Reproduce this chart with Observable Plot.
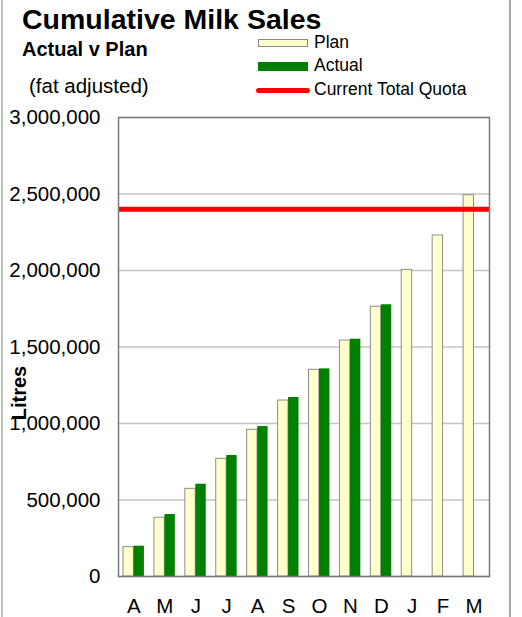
<!DOCTYPE html>
<html><head><meta charset="utf-8">
<script src="https://cdn.jsdelivr.net/npm/d3@7"></script>
<script src="https://cdn.jsdelivr.net/npm/@observablehq/plot@0.6"></script>
<style>
body{margin:0;background:#fff;font-family:"Liberation Sans",Arial,sans-serif;}
#wrap{position:relative;width:522px;height:617px;overflow:hidden;background:#fff;}
#chart{position:absolute;left:0;top:0;}
.t{position:absolute;white-space:nowrap;color:#000;line-height:1;font-family:"Liberation Sans",Arial,sans-serif;}
.sw{position:absolute;box-sizing:border-box;}
.edge{position:absolute;top:0;height:617px;width:2px;background:#b4b4b4;}
</style></head><body>
<div id="wrap">
  <div class="edge" style="left:1px;background:#b8c4b8;"></div>
  <div class="edge" style="left:509px;width:2px;background:#a8a8a8;"></div>
  <div id="chart"></div>
  <div class="t" style="left:22px;top:5px;font-size:28.5px;font-weight:bold;">Cumulative Milk Sales</div>
  <div class="t" style="left:22px;top:39px;font-size:20px;font-weight:bold;">Actual v Plan</div>
  <div class="t" style="left:29px;top:76px;font-size:20.5px;">(fat adjusted)</div>
  <div class="sw" style="left:258px;top:39px;width:50px;height:8px;background:#ffffcc;border:1px solid #8a8a8a;"></div>
  <div class="sw" style="left:258px;top:62px;width:50px;height:9px;background:#008000;"></div>
  <div class="sw" style="left:256px;top:87.5px;width:54px;height:5px;background:#ff0000;border-radius:2.5px;"></div>
  <div class="t" style="left:314px;top:34px;font-size:17.5px;">Plan</div>
  <div class="t" style="left:314px;top:57px;font-size:17.5px;">Actual</div>
  <div class="t" style="left:314px;top:81px;font-size:17.5px;">Current Total Quota</div>
  <div class="t" style="left:19px;top:393px;font-size:20px;font-weight:bold;transform:translate(-50%,-50%) rotate(-90deg);">Litres</div>
</div>
<script>
const monthKeys = ["Apr","May","Jun","Jul","Aug","Sep","Oct","Nov","Dec","Jan","Feb","Mar"];
const monthLabels = ["A","M","J","J","A","S","O","N","D","J","F","M"];
const planValues = [192000, 384000, 573000, 769000, 959000, 1150000, 1351000, 1542000, 1763000, 2004000, 2229000, 2492000];
const actualValues = [198000, 405000, 603000, 791000, 980000, 1170000, 1357000, 1551000, 1776000];
const quotaValue = 2400000;
const yTicks = [0, 500000, 1000000, 1500000, 2000000, 2500000, 3000000];

const planData = planValues.map((v, i) => ({month: monthKeys[i], value: v}));
const actualData = actualValues.map((v, i) => ({month: monthKeys[i], value: v}));

const chart = Plot.plot({
  width: 522,
  height: 617,
  marginLeft: 118,
  marginRight: 33,
  marginTop: 117,
  marginBottom: 41,
  style: {fontFamily: "Liberation Sans, Arial, sans-serif", fontSize: "20.5px", color: "#000", background: "transparent", overflow: "visible"},
  x: {domain: monthKeys, padding: 0, round: false, tickSize: 0, tickPadding: 22, label: null,
      tickFormat: d => monthLabels[monthKeys.indexOf(d)]},
  y: {domain: [0, 3000000], ticks: yTicks, tickSize: 0, tickPadding: 18, label: null,
      tickFormat: d3.format(",")},
  marks: [
    Plot.ruleY(yTicks, {stroke: "#c4c4c4", strokeWidth: 1.5}),
    Plot.barY(planData, {x: "month", y: "value", fill: "#ffffcc", stroke: "#8c8c8c", strokeWidth: 1, insetLeft: 5, insetRight: 15.5}),
    Plot.barY(actualData, {x: "month", y: "value", fill: "#008000", insetLeft: 15.5, insetRight: 5}),
    Plot.ruleY([quotaValue], {stroke: "#ff0000", strokeWidth: 5}),
    Plot.frame({stroke: "#7a7a7a", strokeWidth: 1.5})
  ]
});
document.getElementById("chart").appendChild(chart);
</script>
</body></html>
